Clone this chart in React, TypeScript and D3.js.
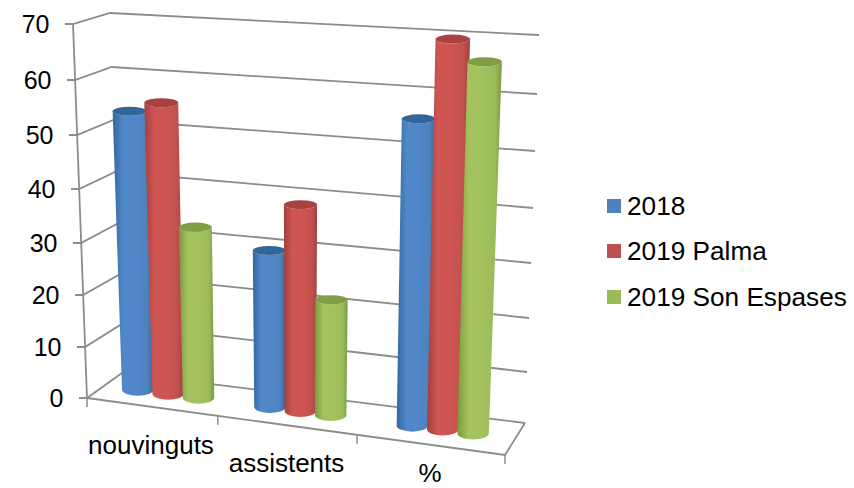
import React from "react";
import * as d3 from "d3";

const categories = ["nouvinguts", "assistents", "%"];
const seriesNames = ["2018", "2019 Palma", "2019 Son Espases"];
const values2018 = [53.5, 30, 56];
const valuesPalma = [55.5, 39, 70];
const valuesSonEspases = [33, 22, 66.5];
const tickValues = [0, 10, 20, 30, 40, 50, 60, 70];
const seriesValues = [values2018, valuesPalma, valuesSonEspases];

const colors = ["#4f81bd", "#c0504d", "#9bbb59"];
const edgeColors = ["#33669f", "#a03f3c", "#7a9a42"];
const midColors = ["#4f87c9", "#cf5552", "#a4c35e"];
const capColors = ["#326598", "#a84341", "#7f9e44"];

// Projected wall geometry, per value tick
const yFL = d3.scaleLinear().domain(tickValues).range([398, 347, 295, 243, 189, 135, 80, 24]);
const yBL = d3.scaleLinear().domain(tickValues).range([373, 325, 275, 224, 172, 120, 67, 13]);
const yBR = d3.scaleLinear().domain(tickValues).range([423, 372, 318, 263, 208, 151, 94, 35]);
const xFL = d3.scaleLinear().domain([0, 70]).range([87, 73]);
const xBL = d3.scaleLinear().domain([0, 70]).range([122, 110]);
const xBR = d3.scaleLinear().domain([0, 70]).range([525, 539]);
const xFR = d3.scaleLinear().domain([0, 70]).range([505, 521]);
const yFR = (v: number) => 455 - ((423 - yBR(v)) * (398 - yFL(v))) / Math.max(1e-6, 373 - yBL(v) || 1);

const lerp = d3.interpolateNumber;
function project(u: number, d: number, v: number) {
  const fx = lerp(xFL(v), xFR(v))(u);
  const bx = lerp(xBL(v), xBR(v))(u);
  const fy = lerp(yFL(v), v === 0 ? 455 : yFR(v))(u);
  const by = lerp(yBL(v), yBR(v))(u);
  return { x: lerp(fx, bx)(d), y: lerp(fy, by)(d) };
}

const groupU = [0.155, 0.477, 0.824];
const seriesStep = 0.074;
const depth = 0.5;
const floorTickU = [0, 0.313, 0.646, 1];

const fontFamily = "'Liberation Sans', Arial, sans-serif";
const grid = "#8c8c8c";

function Bar({ c, s }: { c: number; s: number }) {
  const u = groupU[c] + (s - 1) * seriesStep;
  const v = seriesValues[s][c];
  const b = project(u, depth, 0);
  const t = project(u, depth, v);
  const hwB = 15.7;
  const hwT = 15.7 + (1.6 * v) / 70;
  const ryT = 4.5;
  const ryB = 6;
  const body = `M${t.x - hwT},${t.y} L${b.x - hwB},${b.y} A${hwB},${ryB} 0 0 0 ${b.x + hwB},${b.y} L${t.x + hwT},${t.y} A${hwT},${ryT} 0 0 1 ${t.x - hwT},${t.y} Z`;
  return (
    <g>
      <path d={body} fill={`url(#bar${s})`} />
      <ellipse cx={t.x} cy={t.y} rx={hwT} ry={ryT} fill={capColors[s]} />
    </g>
  );
}

export default function App() {
  const fl0 = { x: xFL(0), y: yFL(0) };
  const br0 = { x: xBR(0), y: yBR(0) };
  const fr0 = { x: 505, y: 455 };
  const legendY = [199, 244, 290];
  return (
    <svg width={854} height={488} style={{ position: "absolute", left: 0, top: 0, background: "#fff" }} fontFamily={fontFamily}>
      <defs>
        {colors.map((_, i) => (
          <linearGradient id={`bar${i}`} key={i} x1="0" x2="1" y1="0" y2="0">
            <stop offset="0" stopColor={edgeColors[i]} />
            <stop offset="0.25" stopColor={midColors[i]} />
            <stop offset="0.55" stopColor={midColors[i]} />
            <stop offset="0.85" stopColor={colors[i]} />
            <stop offset="1" stopColor={edgeColors[i]} />
          </linearGradient>
        ))}
        <filter id="soft" x="-5%" y="-5%" width="110%" height="110%">
          <feGaussianBlur stdDeviation="0.6" />
        </filter>
      </defs>
      <g filter="url(#soft)">
        {tickValues.map((v) => (
          <polyline
            key={v}
            fill="none"
            stroke={grid}
            strokeWidth={1.8}
            points={`${xFL(v) - 8},${yFL(v)} ${xFL(v)},${yFL(v)} ${xBL(v)},${yBL(v)} ${xBR(v)},${yBR(v)}`}
          />
        ))}
        <line x1={xFL(70)} y1={yFL(70)} x2={xFL(0)} y2={yFL(0)} stroke={grid} strokeWidth={1.8} />
        <polyline fill="none" stroke={grid} strokeWidth={1.8} points={`${br0.x},${br0.y} ${fr0.x},${fr0.y} ${fl0.x},${fl0.y}`} />
        {floorTickU.map((u) => {
          const p = project(u, 0, 0);
          return <line key={u} x1={p.x} y1={p.y} x2={p.x} y2={p.y + 9} stroke={grid} strokeWidth={1.5} />;
        })}
        {categories.map((_, c) => seriesNames.map((__, s) => <Bar key={`${c}-${s}`} c={c} s={s} />))}
      </g>
      {tickValues.map((v) => (
        <text key={v} x={xFL(v) - 23.5} y={yFL(v) + 9} fontSize={25} textAnchor="end" fill="#000">
          {v}
        </text>
      ))}
      <text x={151} y={454} fontSize={26} textAnchor="middle" fill="#000">{categories[0]}</text>
      <text x={286.5} y={472} fontSize={26} textAnchor="middle" fill="#000">{categories[1]}</text>
      <text x={430} y={482} fontSize={26} textAnchor="middle" fill="#000">{categories[2]}</text>
      {seriesNames.map((n, i) => (
        <g key={n}>
          <rect x={607} y={legendY[i]} width={14} height={14} fill={colors[i]} />
          <text x={627} y={legendY[i] + 15.5} fontSize={26.2} fill="#000">{n}</text>
        </g>
      ))}
    </svg>
  );
}
